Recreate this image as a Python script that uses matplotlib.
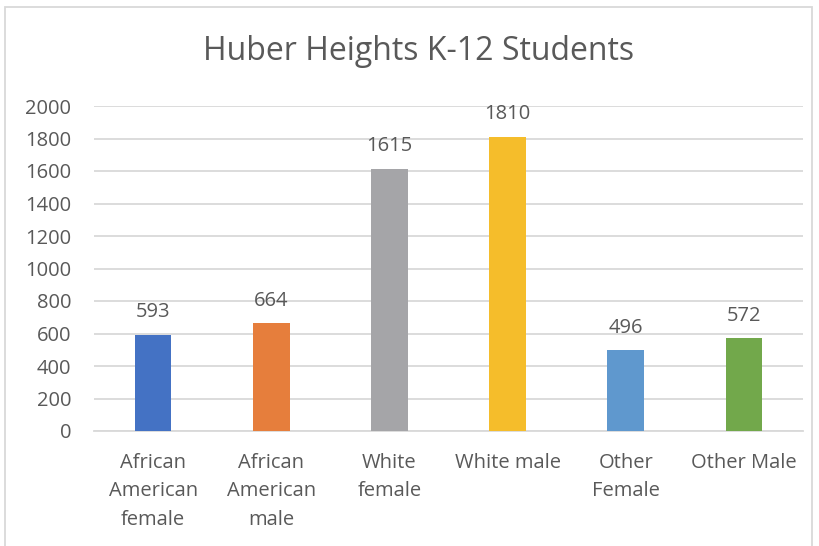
import matplotlib
matplotlib.use("Agg")
import matplotlib.pyplot as plt
from matplotlib.patches import Rectangle

categories = ["African\nAmerican\nfemale", "African\nAmerican\nmale", "White\nfemale",
              "White male", "Other\nFemale", "Other Male"]
values = [593, 664, 1615, 1810, 496, 572]
yticks = [0, 200, 400, 600, 800, 1000, 1200, 1400, 1600, 1800, 2000]
title = "Huber Heights K-12 Students"

plt.rcParams['font.family'] = ['Open Sans', 'DejaVu Sans']
text_color = "#595959"

fig = plt.figure(figsize=(8.19, 5.46), dpi=100)
W, H = 819, 546
ax = fig.add_axes([94 / W, 1 - 431 / H, (803 - 94) / W, (431 - 106) / H])

x = list(range(len(categories)))
bar_colors = ["#4472C4", "#E67E3C", "#A5A5A8", "#F5BD2B", "#5F98CE", "#72A84B"]
ax.bar(x, values, width=0.31, color=bar_colors, zorder=3)
for xi, v in zip(x, values):
    ax.annotate(str(v), (xi, v), xytext=(0, 9), textcoords="offset points",
                ha="center", va="bottom", fontsize=14.5, color=text_color)

ax.set_xlim(-0.5, len(categories) - 0.5)
ax.set_ylim(0, 2000)
ax.set_yticks(yticks)
ax.set_yticklabels([str(t) for t in yticks], fontsize=14.5, color=text_color)
ax.set_xticks(x)
ax.set_xticklabels(categories, fontsize=14.5, color=text_color, linespacing=1.55, va="top")
ax.tick_params(axis="both", length=0)
ax.tick_params(axis="y", pad=16.5)
ax.tick_params(axis="x", pad=16)
ax.grid(axis="y", color="#D9D9D9", linewidth=1.3, zorder=0)
for s in ["top", "right", "left"]:
    ax.spines[s].set_visible(False)
ax.spines["bottom"].set_color("#D9D9D9")
ax.spines["bottom"].set_linewidth(1.3)

fig.text(419 / W, 1 - 52 / H, title, ha="center", va="center", fontsize=23, color=text_color)

fig.patches.append(Rectangle((5 / W, -0.05), (812 - 5) / W, 1 - 7 / H + 0.05,
                             transform=fig.transFigure, fill=False,
                             edgecolor="#D9D9D9", linewidth=1.3))

fig.savefig("out.png", dpi=100)
